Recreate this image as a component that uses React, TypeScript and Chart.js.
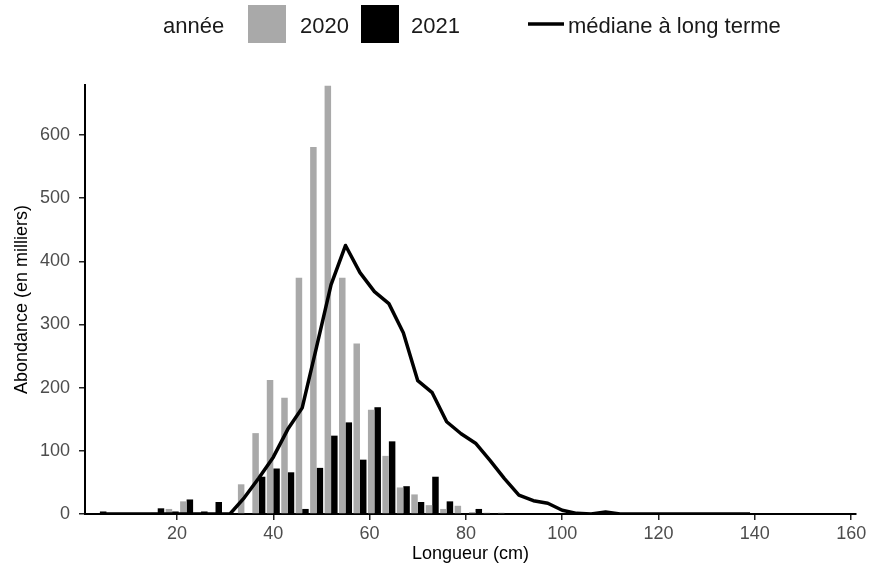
import { useEffect, useRef } from "react";
import { Chart, registerables } from "chart.js";

Chart.register(...registerables);

const FONT = '"Liberation Sans", Arial, sans-serif';

// Length classes (cm, centre of each 3 cm class)
const binCentres = [4, 16, 19, 22, 25, 28, 34, 37, 40, 43, 46, 49, 52, 55, 58, 61, 64, 67, 70, 73, 76, 79, 82, 85, 88];
// Abundance per length class (thousands)
const abundance2020 = [0, 2, 8, 20, 2, 0, 47, 128, 212, 184, 374, 581, 678, 374, 270, 165, 92, 42, 31, 14, 8, 13, 3, 2, 2];
const abundance2021 = [4, 9, 4, 23, 4, 19, 0, 59, 72, 66, 8, 73, 124, 145, 86, 169, 115, 44, 19, 59, 20, 0, 8, 0, 0];

// Long-term median
const medianLengths = [4, 31, 34, 37, 40, 43, 46, 49, 52, 55, 58, 61, 64, 67, 70, 73, 76, 79, 82, 85, 88, 91, 94, 97, 100, 103, 106, 109, 112, 139];
const medianAbundance = [0, 0, 26, 57, 90, 134, 168, 265, 363, 425, 382, 352, 333, 287, 211, 192, 146, 127, 112, 85, 56, 30, 21, 17, 6, 1, 0, 3, 0, 0];

const xTickValues = [20, 40, 60, 80, 100, 120, 140, 160];
const yTickValues = [0, 100, 200, 300, 400, 500, 600];

const legendTitle = "année";
const label2020 = "2020";
const label2021 = "2021";
const labelMedian = "médiane à long terme";
const xTitle = "Longueur (cm)";
const yTitle = "Abondance (en milliers)";

const GREY = "#a9a9a9";
const BLACK = "#000000";

// Legend row drawn across the top of the canvas
const topLegend = {
  id: "topLegend",
  afterDraw(chart: any) {
    const { ctx } = chart;
    const ds = chart.data.datasets;
    ctx.save();
    ctx.font = `22px ${FONT}`;
    ctx.fillStyle = "#1a1a1a";
    ctx.textBaseline = "alphabetic";
    ctx.textAlign = "left";
    ctx.fillText(legendTitle, 163, 33);

    ctx.fillStyle = ds[0].backgroundColor;
    ctx.fillRect(248, 5, 38, 38);
    ctx.fillStyle = "#1a1a1a";
    ctx.fillText(ds[0].label, 300, 33);

    ctx.fillStyle = ds[1].backgroundColor;
    ctx.fillRect(361, 5, 38, 38);
    ctx.fillStyle = "#1a1a1a";
    ctx.fillText(ds[1].label, 411, 33);

    ctx.strokeStyle = ds[2].borderColor;
    ctx.lineWidth = 3.5;
    ctx.beginPath();
    ctx.moveTo(528, 24);
    ctx.lineTo(564, 24);
    ctx.stroke();
    ctx.fillText(ds[2].label, 568, 33);
    ctx.restore();
  },
};

export default function App() {
  const canvasRef = useRef<HTMLCanvasElement | null>(null);

  useEffect(() => {
    if (!canvasRef.current) return;
    const chart = new Chart(canvasRef.current, {
      type: "bar",
      data: {
        datasets: [
          {
            type: "bar",
            label: label2020,
            data: binCentres.map((x, i) => ({ x, y: abundance2020[i] })),
            backgroundColor: GREY,
            borderWidth: 0,
            order: 1,
            categoryPercentage: 0.9,
            barPercentage: 1,
          },
          {
            type: "bar",
            label: label2021,
            data: binCentres.map((x, i) => ({ x, y: abundance2021[i] })),
            backgroundColor: BLACK,
            borderWidth: 0,
            order: 1,
            categoryPercentage: 0.9,
            barPercentage: 1,
          },
          {
            type: "line",
            label: labelMedian,
            data: medianLengths.map((x, i) => ({ x, y: medianAbundance[i] })),
            borderColor: BLACK,
            backgroundColor: BLACK,
            borderWidth: 3.5,
            borderJoinStyle: "round",
            pointRadius: 0,
            tension: 0,
            order: 0,
          },
        ],
      } as any,
      options: {
        responsive: false,
        animation: false,
        layout: { padding: { left: 0, right: 14, top: 85, bottom: 0 } },
        plugins: {
          legend: { display: false },
          tooltip: { enabled: false },
        },
        scales: {
          x: {
            type: "linear",
            min: 0.9,
            max: 161,
            offset: false,
            afterBuildTicks: (axis: any) => {
              axis.ticks = xTickValues.map((v) => ({ value: v }));
            },
            afterFit: (axis: any) => {
              axis.height = 51;
            },
            grid: {
              display: true,
              offset: false,
              drawOnChartArea: false,
              drawTicks: true,
              tickLength: 6,
              color: "#222",
              lineWidth: 1.5,
            },
            border: { display: true, color: "#000", width: 2 },
            ticks: {
              autoSkip: false,
              maxRotation: 0,
              padding: 3,
              color: "#4d4d4d",
              font: { family: FONT, size: 18 },
            },
            title: {
              display: true,
              text: xTitle,
              color: "#000",
              font: { family: FONT, size: 18 },
              padding: { top: 0, bottom: 0 },
            },
          },
          y: {
            type: "linear",
            min: 0,
            max: 679,
            afterBuildTicks: (axis: any) => {
              axis.ticks = yTickValues.map((v) => ({ value: v }));
            },
            afterFit: (axis: any) => {
              axis.width = 85;
            },
            grid: {
              display: true,
              drawOnChartArea: false,
              drawTicks: true,
              tickLength: 6,
              color: "#222",
              lineWidth: 1.5,
            },
            border: { display: true, color: "#000", width: 2 },
            ticks: {
              padding: 9,
              color: "#4d4d4d",
              font: { family: FONT, size: 18 },
            },
            title: {
              display: true,
              text: yTitle,
              color: "#000",
              font: { family: FONT, size: 18 },
              padding: { top: 11, bottom: 0 },
            },
          },
        },
      } as any,
      plugins: [topLegend],
    });
    return () => chart.destroy();
  }, []);

  return (
    <div style={{ position: "absolute", left: 0, top: 0, width: 870, height: 565, background: "#fff" }}>
      <canvas ref={canvasRef} width={870} height={565} style={{ display: "block" }} />
    </div>
  );
}
